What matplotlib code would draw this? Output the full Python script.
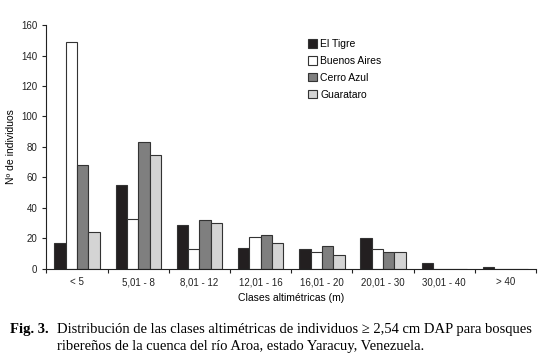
import matplotlib.pyplot as plt
import numpy as np

categories = ['< 5', '5,01 - 8', '8,01 - 12', '12,01 - 16', '16,01 - 20',
              '20,01 - 30', '30,01 - 40', '> 40']
el_tigre = [17, 55, 29, 14, 13, 20, 4, 1]
buenos_aires = [149, 33, 13, 21, 11, 13, 0, 0]
cerro_azul = [68, 83, 32, 22, 15, 11, 0, 0]
guarataro = [24, 75, 30, 17, 9, 11, 0, 0]

series = [
    ('El Tigre', el_tigre, '#231f20'),
    ('Buenos Aires', buenos_aires, '#ffffff'),
    ('Cerro Azul', cerro_azul, '#7f7f7f'),
    ('Guarataro', guarataro, '#d4d4d4'),
]

plt.rcParams['font.family'] = ['Liberation Sans', 'DejaVu Sans']

fig = plt.figure(figsize=(5.47, 3.58), dpi=100)
ax = fig.add_axes([0.085, 0.249, 0.895, 0.681])

x = np.arange(len(categories))
width = 0.185
for i, (name, vals, color) in enumerate(series):
    offset = (i - 1.5) * width
    ax.bar(x + offset, vals, width, color=color, edgecolor='#333333',
           linewidth=0.8, label=name)

ax.set_xlim(-0.5, len(categories) - 0.5)
ax.set_ylim(0, 160)
ax.set_yticks(np.arange(0, 161, 20))
ax.set_xticks(x)
ax.set_xticklabels(categories)
ax.set_xticks(np.arange(-0.5, len(categories)), minor=True)
ax.tick_params(axis='x', which='major', length=0, labelsize=7, pad=6, colors='#222222')
ax.tick_params(axis='x', which='minor', length=3, width=0.8, direction='out', colors='#222222')
ax.tick_params(axis='y', length=3, width=0.8, labelsize=7, colors='#222222')

for side in ['top', 'right']:
    ax.spines[side].set_visible(False)
for side in ['left', 'bottom']:
    ax.spines[side].set_linewidth(0.8)
    ax.spines[side].set_color('#222222')

ax.set_ylabel('Nº de individuos', fontsize=7.5, labelpad=4)
ax.set_xlabel('Clases altimétricas (m)', fontsize=7.5, labelpad=4)

ax.legend(loc='upper left', bbox_to_anchor=(0.553, 0.905),
          bbox_transform=fig.transFigure, frameon=False, fontsize=7.5,
          handlelength=0.9, handleheight=0.9, handletextpad=0.3,
          labelspacing=0.65, borderpad=0)

fig.text(0.018, 0.07, 'Fig. 3.', fontsize=10.5, fontweight='bold',
         family='Liberation Serif')
fig.text(0.104, 0.07,
         'Distribución de las clases altimétricas de individuos ≥ 2,54 cm DAP para bosques',
         fontsize=10.5, family='Liberation Serif')
fig.text(0.104, 0.022,
         'ribereños de la cuenca del río Aroa, estado Yaracuy, Venezuela.',
         fontsize=10.5, family='Liberation Serif')

fig.savefig('out.png', dpi=100)
